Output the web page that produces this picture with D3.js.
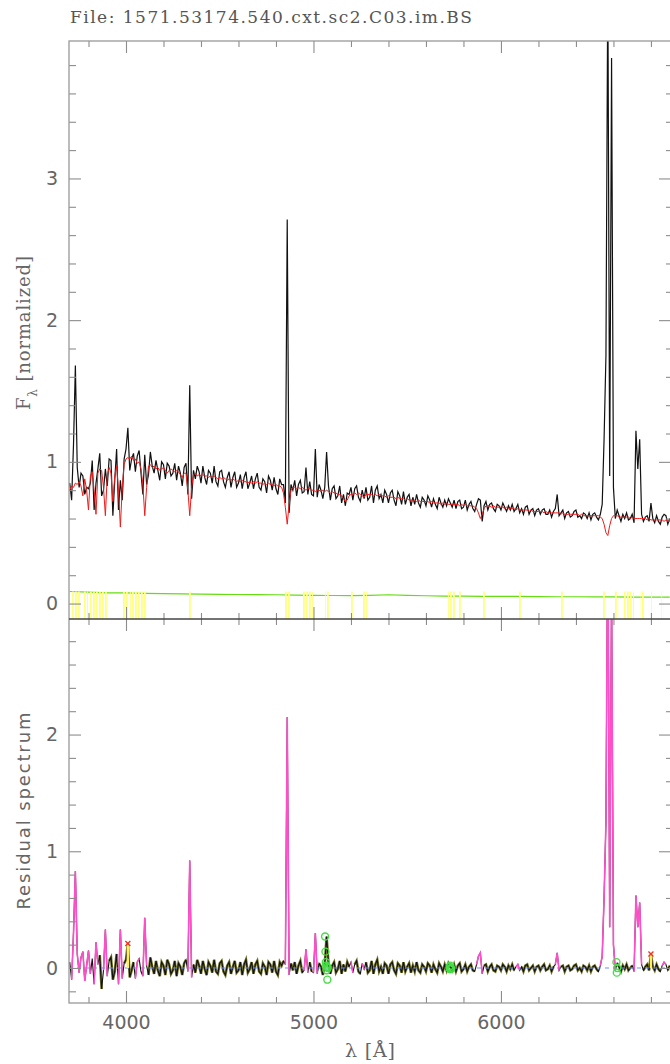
<!DOCTYPE html>
<html>
<head>
<meta charset="utf-8">
<script src="https://cdn.jsdelivr.net/npm/d3@7/dist/d3.min.js"></script>
<style>
  html, body { margin: 0; padding: 0; background: #fff; }
  svg { display: block; }
</style>
</head>
<body>
<div id="chart"></div>
<script>
// =========================================
// Data
// =========================================
const WAVE_START = 3700;   // first sample, Angstrom
const WAVE_STEP = 10;      // sampling step, Angstrom

// synthetic (model) spectrum, one value per 10 A, 3700..6900
const modelFlux = [
  0.80, 0.83, 0.82, 0.85, 0.84, 0.86, 0.83, 0.76, 0.88, 0.80,
  0.66, 0.90, 0.93, 0.80, 0.63, 0.92, 0.95, 0.94, 0.82, 0.62,
  0.90, 0.96, 0.92, 0.72, 0.90, 0.97, 0.80, 0.54, 0.82, 0.98,
  1.02, 1.03, 1.02, 1.04, 1.01, 1.02, 0.99, 1.00, 0.95, 0.84,
  0.62, 0.82, 0.97, 0.98, 0.96, 0.97, 0.95, 0.96, 0.94, 0.95,
  0.96, 0.94, 0.92, 0.94, 0.95, 0.94, 0.93, 0.94, 0.93, 0.91,
  0.89, 0.92, 0.92, 0.80, 0.62, 0.82, 0.91, 0.92, 0.90, 0.91,
  0.90, 0.91, 0.90, 0.90, 0.89, 0.90, 0.89, 0.90, 0.89, 0.88,
  0.89, 0.88, 0.89, 0.88, 0.87, 0.88, 0.87, 0.88, 0.87, 0.86,
  0.87, 0.86, 0.87, 0.86, 0.86, 0.85, 0.86, 0.85, 0.86, 0.85,
  0.86, 0.85, 0.85, 0.84, 0.85, 0.84, 0.85, 0.84, 0.84, 0.83,
  0.84, 0.83, 0.83, 0.82, 0.78, 0.68, 0.56, 0.70, 0.80, 0.82,
  0.82, 0.81, 0.82, 0.81, 0.82, 0.81, 0.80, 0.81, 0.81, 0.80,
  0.80, 0.79, 0.80, 0.80, 0.79, 0.80, 0.79, 0.80, 0.79, 0.78,
  0.79, 0.78, 0.78, 0.77, 0.77, 0.76, 0.74, 0.72, 0.73, 0.76,
  0.77, 0.77, 0.78, 0.77, 0.78, 0.77, 0.76, 0.75, 0.77, 0.77,
  0.77, 0.77, 0.76, 0.77, 0.76, 0.77, 0.76, 0.76, 0.76, 0.75,
  0.76, 0.75, 0.75, 0.75, 0.74, 0.75, 0.74, 0.74, 0.74, 0.73,
  0.74, 0.73, 0.73, 0.73, 0.73, 0.72, 0.73, 0.72, 0.72, 0.72,
  0.72, 0.72, 0.71, 0.72, 0.71, 0.71, 0.71, 0.71, 0.70, 0.71,
  0.70, 0.71, 0.70, 0.70, 0.70, 0.70, 0.70, 0.70, 0.69, 0.70,
  0.69, 0.70, 0.69, 0.69, 0.69, 0.69, 0.68, 0.67, 0.64, 0.60,
  0.63, 0.67, 0.69, 0.69, 0.69, 0.68, 0.69, 0.68, 0.68, 0.68,
  0.68, 0.68, 0.67, 0.68, 0.67, 0.67, 0.67, 0.67, 0.66, 0.67,
  0.66, 0.66, 0.66, 0.66, 0.66, 0.65, 0.66, 0.65, 0.65, 0.65,
  0.65, 0.65, 0.65, 0.64, 0.65, 0.64, 0.64, 0.64, 0.64, 0.64,
  0.64, 0.64, 0.63, 0.64, 0.63, 0.63, 0.63, 0.63, 0.63, 0.63,
  0.63, 0.63, 0.62, 0.63, 0.62, 0.62, 0.62, 0.62, 0.62, 0.62,
  0.62, 0.62, 0.62, 0.61, 0.60, 0.56, 0.50, 0.48, 0.55, 0.60,
  0.62, 0.62, 0.62, 0.61, 0.61, 0.61, 0.61, 0.61, 0.61, 0.60,
  0.61, 0.60, 0.60, 0.60, 0.60, 0.60, 0.60, 0.60, 0.59, 0.60,
  0.59, 0.59, 0.59, 0.59, 0.59, 0.59, 0.59, 0.58, 0.59, 0.58,
  0.58
];

// residual (observed - model), same sampling
const residualFlux = [
  0.05, -0.10, 0.30, 0.83, 0.12, -0.04, 0.09, 0.14, -0.11, 0.02,
  0.15, -0.05, 0.08, -0.14, 0.22, 0.03, 0.11, -0.18, -0.02, 0.33,
  -0.07, 0.06, 0.09, -0.10, -0.03, 0.12, -0.14, 0.33, -0.09, 0.04,
  0.07, 0.21, -0.08, -0.02, 0.05, -0.09, 0.05, 0.08, -0.03, -0.07,
  0.43, 0.02, -0.06, 0.09, 0.01, -0.05, 0.06, -0.02, -0.07, 0.05,
  0.02, -0.06, 0.07, 0.03, -0.05, -0.02, 0.06, -0.07, 0.04, 0.01,
  -0.06, 0.04, 0.07, -0.03, 0.92, -0.08, 0.03, -0.04, 0.07, 0.02,
  -0.05, 0.06, -0.01, -0.06, 0.05, 0.02, -0.04, 0.07, -0.03, -0.05,
  0.04, 0.06, -0.03, -0.06, 0.02, 0.05, -0.05, 0.01, 0.06, -0.04,
  -0.02, 0.05, -0.06, 0.03, 0.07, -0.04, -0.01, 0.05, -0.05, 0.03,
  0.06, -0.03, -0.05, 0.04, 0.01, -0.06, 0.05, 0.03, -0.04, 0.06,
  -0.03, -0.06, 0.05, 0.02, 0.06, 0.03, 2.15, -0.06, 0.04, -0.02,
  0.05, -0.05, 0.02, 0.06, -0.04, -0.02, 0.16, -0.04, 0.05, -0.03,
  -0.04, 0.30, -0.05, 0.04, 0.01, -0.06, 0.03, 0.27, 0.04, -0.05,
  0.02, 0.05, -0.04, -0.01, 0.06, -0.05, 0.03, -0.03, 0.05, 0.01,
  0.05, -0.04, 0.03, 0.06, -0.03, -0.05, 0.04, -0.01, 0.05, -0.04,
  -0.02, 0.06, -0.05, 0.03, 0.07, -0.03, 0.01, -0.05, 0.04, 0.02,
  -0.05, 0.03, 0.05, -0.02, -0.05, 0.04, 0.02, -0.04, 0.05, -0.03,
  0.01, 0.04, -0.04, 0.02, -0.03, 0.05, -0.02, -0.04, 0.03, 0.01,
  -0.03, 0.04, 0.02, -0.04, 0.03, -0.01, -0.04, 0.04, 0.01, -0.03,
  0.03, -0.02, 0.04, 0.01, -0.02, 0.03, -0.03, 0.02, 0.04, -0.03,
  -0.01, 0.03, -0.03, 0.01, 0.03, -0.02, -0.03, 0.03, 0.10, 0.13,
  -0.05, 0.02, 0.03, -0.03, 0.01, 0.03, -0.02, -0.03, 0.02, 0.01,
  -0.02, 0.03, 0.01, -0.03, 0.02, -0.01, 0.03, -0.02, 0.01, 0.03,
  -0.02, 0.01, -0.03, 0.02, 0.03, -0.02, 0.00, 0.02, -0.03, 0.01,
  0.02, -0.02, 0.01, 0.03, -0.02, -0.01, 0.02, -0.03, 0.01, 0.03,
  0.13, -0.02, 0.01, 0.02, -0.03, 0.01, 0.02, -0.02, -0.01, 0.02,
  0.03, -0.02, 0.00, -0.03, 0.02, 0.01, -0.02, 0.02, -0.03, 0.01,
  0.02, -0.01, -0.03, 0.02, 0.10, 0.60, 1.25, 3.95, 0.35, 3.25,
  0.20, -0.02, 0.04, 0.01, -0.03, 0.02, -0.01, 0.03, -0.02, 0.00,
  0.02, -0.03, 0.62, 0.35, 0.56, 0.03, -0.02, 0.01, 0.03, -0.02,
  0.12, 0.01, -0.02, 0.03, -0.01, -0.03, 0.02, 0.05, 0.03, -0.02,
  0.02
];

// error spectrum, every 100 A
const errorWave = [3700, 3800, 3900, 4000, 4100, 4200, 4300, 4400, 4500, 4600, 4700,
  4800, 4900, 5000, 5100, 5200, 5300, 5400, 5500, 5600, 5700, 5800, 5900, 6000,
  6100, 6200, 6300, 6400, 6500, 6600, 6700, 6800, 6900];
const errorFlux = [0.085, 0.080, 0.075, 0.075, 0.072, 0.070, 0.068, 0.066, 0.065, 0.064, 0.063,
  0.062, 0.060, 0.058, 0.057, 0.056, 0.058, 0.062, 0.058, 0.055, 0.053, 0.052, 0.051, 0.050,
  0.050, 0.049, 0.048, 0.048, 0.047, 0.047, 0.046, 0.046, 0.045];

// emission-line windows (pink in residual panel), [from, to] in A
const lineMasks = [[3710, 3750], [3760, 3780], [3790, 3810], [3830, 3850], [3880, 3900],
  [3960, 3980], [4050, 4070], [4090, 4110], [4330, 4350], [4850, 4870], [4950, 4970],
  [5000, 5020], [5195, 5215], [5255, 5275], [5870, 5900], [6080, 6100], [6290, 6310],
  [6530, 6610], [6710, 6750], [6860, 6880]];

// flagged pixel ranges (yellow in flux panel)
const flaggedRanges = [[3712, 3755], [3771, 3797], [3808, 3899], [3979, 4011], [4021, 4112],
  [4331, 4352], [4848, 4875], [4944, 4997], [5061, 5088], [5195, 5211], [5264, 5285],
  [5717, 5755], [5771, 5792], [5899, 5915], [6091, 6112], [6315, 6331], [6540, 6560],
  [6605, 6625], [6655, 6710], [6745, 6765], [6795, 6805], [6855, 6865]];

// clipped pixels (green circles)
const clippedWave = [5062, 5064, 5066, 5068, 5070, 5072, 5074, 5076,
  5726, 5728, 5730, 5732, 5734, 6616, 6618, 6620];
const clippedResid = [0.27, 0.14, 0.05, 0.02, -0.02, 0.01, -0.10, 0.00,
  0.01, -0.01, 0.02, 0.00, -0.01, 0.05, -0.04, 0.00];

// bad pixels (red crosses)
const badWave = [4010, 6800];
const badResid = [0.21, 0.12];

// ticks
const waveTicks = [4000, 5000, 6000];
const fluxTicks = [0, 1, 2, 3];
const residTicks = [0, 1, 2];

const fileLabel = 'File: 1571.53174.540.cxt.sc2.C03.im.BS';

(function() {
  'use strict';

  const W = 670, H = 1064;
  const left = 69, right = 671;
  const topY0 = 41, midY = 619, botY1 = 1003;

  const spec = modelFlux.map((m, i) => ({
    w: WAVE_START + i * WAVE_STEP,
    model: m,
    resid: residualFlux[i],
    obs: m + residualFlux[i]
  }));
  const inMask = w => lineMasks.some(([a, b]) => w >= a && w <= b);

  const svg = d3.select('#chart').append('svg')
    .attr('width', W).attr('height', H)
    .style('font-family', '"DejaVu Sans", sans-serif');

  // scales
  const x = d3.scaleLinear().domain([3696, 6907]).range([left, right]);
  const yF = d3.scaleLinear().domain([-0.109, 3.97]).range([midY, topY0]);
  const yR = d3.scaleLinear().domain([-0.30, 2.99]).range([botY1, midY]);

  const isMinor = v => Math.abs(v - Math.round(v)) > 1e-6;
  const xMinor = d3.range(3800, 6901, 200).filter(v => v % 1000 !== 0);
  const fMinor = d3.range(0, 3.97, 0.2).filter(isMinor);
  const rMinor = d3.range(-0.2, 2.99, 0.2).filter(isMinor);

  // clip paths + stripe pattern
  const defs = svg.append('defs');
  defs.append('clipPath').attr('id', 'clipTop').append('rect')
    .attr('x', left).attr('y', topY0).attr('width', right - left).attr('height', midY - topY0);
  defs.append('clipPath').attr('id', 'clipBot').append('rect')
    .attr('x', left).attr('y', midY).attr('width', right - left).attr('height', botY1 - midY);
  const pat = defs.append('pattern').attr('id', 'yellowStripes')
    .attr('patternUnits', 'userSpaceOnUse').attr('width', 3).attr('height', 10);
  pat.append('rect').attr('width', 1.8).attr('height', 10).attr('fill', '#ffff80');

  // =========================================
  // top panel: observed + model
  // =========================================
  const gTop = svg.append('g').attr('clip-path', 'url(#clipTop)');

  gTop.append('path')
    .datum(spec)
    .attr('fill', 'none').attr('stroke', '#111').attr('stroke-width', 1.2)
    .attr('d', d3.line().x(d => x(d.w)).y(d => yF(d.obs)));

  gTop.append('path')
    .datum(spec)
    .attr('fill', 'none').attr('stroke', '#ee1c1c').attr('stroke-width', 1)
    .attr('d', d3.line().x(d => x(d.w)).y(d => yF(d.model)));

  gTop.append('path')
    .datum(errorWave.map((w, i) => ({ w, e: errorFlux[i] })))
    .attr('fill', 'none').attr('stroke', '#66dd11').attr('stroke-width', 1.2)
    .attr('d', d3.line().x(d => x(d.w)).y(d => yF(d.e)));

  gTop.selectAll('.flag')
    .data(flaggedRanges)
    .enter().append('rect')
    .attr('x', d => x(d[0]))
    .attr('width', d => Math.max(1.5, x(d[1]) - x(d[0])))
    .attr('y', yF(0.085))
    .attr('height', midY - yF(0.085))
    .attr('fill', 'url(#yellowStripes)');

  // =========================================
  // bottom panel: residuals
  // =========================================
  const gBot = svg.append('g').attr('clip-path', 'url(#clipBot)');
  const rLine = () => d3.line().x(d => x(d.w)).y(d => yR(d.resid));

  gBot.append('path')
    .datum(spec)
    .attr('fill', 'none').attr('stroke', '#75752a').attr('stroke-width', 2.6)
    .attr('d', rLine().defined(d => !inMask(d.w)));

  gBot.append('path')
    .datum(spec)
    .attr('fill', 'none').attr('stroke', '#111').attr('stroke-width', 1.1)
    .attr('d', rLine());

  gBot.append('line')
    .attr('x1', left).attr('x2', right)
    .attr('y1', yR(0)).attr('y2', yR(0))
    .attr('stroke', '#6f8cff').attr('stroke-width', 1).attr('stroke-dasharray', '4,4');

  gBot.append('path')
    .datum(spec)
    .attr('fill', 'none').attr('stroke', '#ff4fc8').attr('stroke-width', 1.6)
    .attr('d', rLine().defined(d => inMask(d.w)));

  const bad = badWave.map((w, i) => ({ w, r: badResid[i] }));
  gBot.selectAll('.stem').data(bad).enter().append('line')
    .attr('x1', d => x(d.w)).attr('x2', d => x(d.w))
    .attr('y1', yR(0)).attr('y2', d => yR(d.r))
    .attr('stroke', '#ffee55').attr('stroke-width', 2.5);
  gBot.selectAll('.cross').data(bad).enter().append('path')
    .attr('d', d => {
      const cx = x(d.w), cy = yR(d.r), s = 2.5;
      return `M${cx - s},${cy - s}L${cx + s},${cy + s}M${cx - s},${cy + s}L${cx + s},${cy - s}`;
    })
    .attr('stroke', '#ee3322').attr('stroke-width', 1.3);

  gBot.selectAll('.clip').data(clippedWave.map((w, i) => ({ w, r: clippedResid[i] })))
    .enter().append('circle')
    .attr('cx', d => x(d.w)).attr('cy', d => yR(d.r)).attr('r', 3.5)
    .attr('fill', 'none').attr('stroke', '#44dd44').attr('stroke-width', 1.4);

  // =========================================
  // axes and frame
  // =========================================
  const styleAxis = a => {
    a.select('.domain').remove();
    a.selectAll('.tick line').attr('stroke', '#8c8c8c').attr('stroke-width', 1.1);
    a.selectAll('.tick text').attr('fill', '#666').style('font-size', '19px')
      .style('font-family', '"DejaVu Sans", sans-serif');
    return a;
  };
  const addAxis = (axis, tx, ty) =>
    styleAxis(svg.append('g').attr('transform', `translate(${tx},${ty})`).call(axis));

  // x ticks: top frame, divider (both sides) and bottom
  [[d3.axisTop, topY0], [d3.axisBottom, midY], [d3.axisTop, midY], [d3.axisBottom, botY1]]
    .forEach(([fn, ty]) => {
      addAxis(fn(x).tickValues(waveTicks).tickSize(-12).tickFormat(''), 0, ty);
      addAxis(fn(x).tickValues(xMinor).tickSize(-6).tickFormat(''), 0, ty);
    });
  addAxis(d3.axisBottom(x).tickValues(waveTicks).tickSize(0).tickPadding(13)
    .tickFormat(d3.format('d')), 0, botY1);

  // y ticks, left and right
  [[yF, fluxTicks, fMinor], [yR, residTicks, rMinor]].forEach(([ys, major, minor]) => {
    addAxis(d3.axisLeft(ys).tickValues(major).tickSize(-12).tickPadding(11)
      .tickFormat(d3.format('d')), left, 0);
    addAxis(d3.axisLeft(ys).tickValues(minor).tickSize(-7).tickFormat(''), left, 0);
    addAxis(d3.axisRight(ys).tickValues(major).tickSize(-12).tickFormat(''), right, 0);
    addAxis(d3.axisRight(ys).tickValues(minor).tickSize(-5).tickFormat(''), right, 0);
  });

  // frame lines
  const frame = svg.append('g').attr('fill', 'none');
  frame.append('rect')
    .attr('x', left).attr('y', topY0).attr('width', right - left).attr('height', botY1 - topY0)
    .attr('stroke', '#999').attr('stroke-width', 1.3);
  frame.append('line')
    .attr('x1', left).attr('x2', right).attr('y1', midY).attr('y2', midY)
    .attr('stroke', '#444').attr('stroke-width', 1.5);

  // =========================================
  // labels
  // =========================================
  svg.append('text')
    .attr('x', 70).attr('y', 23)
    .attr('textLength', 402).attr('lengthAdjust', 'spacing')
    .style('font-family', '"DejaVu Serif", serif').style('font-size', '17px')
    .attr('fill', '#555')
    .text(fileLabel);

  const yLab = svg.append('text')
    .attr('transform', 'translate(30,333) rotate(-90)')
    .attr('text-anchor', 'middle')
    .attr('textLength', 154).attr('lengthAdjust', 'spacing')
    .style('font-family', '"DejaVu Serif", serif').style('font-size', '18px')
    .attr('fill', '#666');
  yLab.append('tspan').text('F');
  yLab.append('tspan').attr('baseline-shift', 'sub').style('font-size', '12px').text('λ');
  yLab.append('tspan').attr('baseline-shift', '0').text(' [normalized]');

  svg.append('text')
    .attr('transform', 'translate(30,811) rotate(-90)')
    .attr('text-anchor', 'middle')
    .attr('textLength', 197).attr('lengthAdjust', 'spacing')
    .style('font-size', '18px').attr('fill', '#666')
    .text('Residual spectrum');

  svg.append('text')
    .attr('x', 370).attr('y', 1057)
    .attr('text-anchor', 'middle')
    .attr('textLength', 50).attr('lengthAdjust', 'spacing')
    .style('font-family', '"DejaVu Serif", serif').style('font-size', '19px')
    .attr('fill', '#666')
    .text('λ [Å]');
})();
</script>
</body>
</html>
